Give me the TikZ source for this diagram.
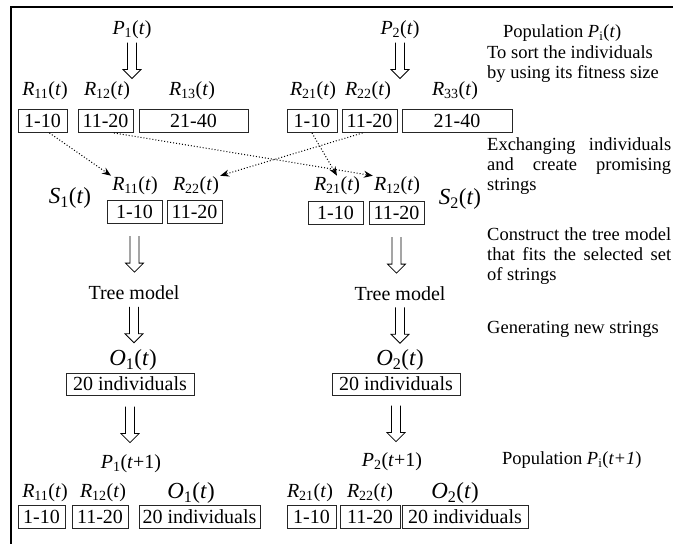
\documentclass[tikz,border=0pt]{standalone}
\usepackage{fontspec}
\setmainfont{Liberation Serif}
\usetikzlibrary{arrows.meta,calc,positioning}
\hyphenpenalty=10000
\exhyphenpenalty=10000
\newcommand{\tlab}[2]{\textit{#1}\textsubscript{#2}(\textit{t})}
\tikzset{
  lbl/.style={inner sep=1pt},
  biglbl/.style={inner sep=1pt,font=\fontsize{23}{25}\selectfont},
  cell/.style={draw=black!85,line width=0.9pt,minimum height=23pt,inner sep=0pt},
  note/.style={font=\fontsize{18.5}{20}\selectfont,inner sep=0pt,anchor=west},
  para/.style={note,text width=184pt,align=justify},
  xchg/.style={dotted,line width=1pt,-{Stealth[length=9pt,width=7pt]}},
  fatarrow/.style={line width=0.8pt,to path={
    let \p1=(\tikztostart),\p3=($(\tikztostart)!.5!(\tikztotarget)$) in
    (\x1-4.5pt,\y3+18pt) -- (\x1-4.5pt,\y3-9pt) -- (\x1-9pt,\y3-9pt) -- (\x1,\y3-18pt)
    -- (\x1+9pt,\y3-9pt) -- (\x1+4.5pt,\y3-9pt) -- (\x1+4.5pt,\y3+18pt)}},
}

\begin{document}
\begin{tikzpicture}[x=1pt,y=-1pt,font=\fontsize{20}{22}\selectfont]
\useasboundingbox (0,0) rectangle (673,544);
\draw[line width=1.8pt] (673,7) -- (11,7) -- (11,544);

% populations at t
\node[lbl] (p1) at (132,30) {\tlab{P}{1}};
\node[lbl] (p2) at (400,30) {\tlab{P}{2}};

\node[lbl] (r11) at (45,91) {\tlab{R}{11}};
\node[lbl] (r12) at (107,91) {\tlab{R}{12}};
\node[lbl] (r13) at (192,91) {\tlab{R}{13}};
\node[lbl] (r21) at (313,91) {\tlab{R}{21}};
\node[lbl] (r22) at (368,91) {\tlab{R}{22}};
\node[lbl] (r33) at (455,91) {\tlab{R}{33}};

\node[cell,minimum width=49pt] (b11) at (42.5,121) {1-10};
\node[cell,minimum width=55pt] (b12) at (105.5,121) {11-20};
\node[cell,minimum width=109pt] (b13) at (193.5,121) {21-40};
\node[cell,minimum width=50pt] (b21) at (312,121) {1-10};
\node[cell,minimum width=55pt] (b22) at (369.5,121) {11-20};
\node[cell,minimum width=110pt] (b23) at (457,121) {21-40};

\draw[fatarrow] (p1.south) to (p1.south |- r12.north);
\draw[fatarrow] (p2.south) to (p2.south |- r22.north);

% selected strings
\node[biglbl] (s1) at (70,198) {\tlab{S}{1}};
\node[lbl] (s11) at (135,186) {\tlab{R}{11}};
\node[lbl] (s22) at (196,186) {\tlab{R}{22}};
\node[cell,minimum width=55pt] (sb11) at (134.5,211.5) {1-10};
\node[cell,minimum width=55pt] (sb22) at (194.5,211.5) {11-20};

\node[biglbl] (s2) at (460,199) {\tlab{S}{2}};
\node[lbl] (s21) at (337,186) {\tlab{R}{21}};
\node[lbl] (s12) at (397,186) {\tlab{R}{12}};
\node[cell,minimum width=55pt] (sb21) at (335.5,212.5) {1-10};
\node[cell,minimum width=55pt] (sb12) at (396.5,212.5) {11-20};

\draw[xchg] (b11.-60) -- (s11.north west);
\draw[xchg] (b12.-55) -- (s12.north west);
\draw[xchg] (b21.south) -- (s21.north);
\draw[xchg] (b22.-120) -- (s22.north east);

% tree models and offspring
\node[lbl] (tree1) at (134,293) {Tree model};
\node[lbl] (tree2) at (400,294) {Tree model};
\draw[fatarrow] (sb11.south) to (sb11.south |- tree1.north);
\draw[fatarrow] (sb12.south) to (sb12.south |- tree2.north);

\node[biglbl] (o1) at (133,360) {\tlab{O}{1}};
\node[biglbl] (o2) at (400,360) {\tlab{O}{2}};
\draw[fatarrow] (tree1.south) to (tree1.south |- o1.north);
\draw[fatarrow] (tree2.south) to (tree2.south |- o2.north);

\node[cell,minimum width=128pt,minimum height=22pt] (ob1) at (130,384) {20 individuals};
\node[cell,minimum width=128pt,minimum height=22pt] (ob2) at (396,384) {20 individuals};

\node[lbl] (pn1) at (131,464) {\textit{P}\textsubscript{1}(\textit{t}+1)};
\node[lbl] (pn2) at (392,462) {\textit{P}\textsubscript{2}(\textit{t}+1)};
\draw[fatarrow] (ob1.south) to (ob1.south |- pn1.north);
\draw[fatarrow] (ob2.south) to (ob2.south |- pn2.north);

% populations at t+1
\node[lbl] (q11) at (45,493) {\tlab{R}{11}};
\node[lbl] (q12) at (103,493) {\tlab{R}{12}};
\node[biglbl] (q13) at (191,493) {\tlab{O}{1}};
\node[lbl] (q21) at (310,493) {\tlab{R}{21}};
\node[lbl] (q22) at (370,493) {\tlab{R}{22}};
\node[biglbl] (q23) at (455,493) {\tlab{O}{2}};

\node[cell,minimum width=47pt] (c11) at (41.5,516.5) {1-10};
\node[cell,minimum width=56pt] (c12) at (100,516.5) {11-20};
\node[cell,minimum width=121pt] (c13) at (199.5,516.5) {20 individuals};
\node[cell,minimum width=49pt] (c21) at (311.5,516.5) {1-10};
\node[cell,minimum width=60pt] (c22) at (370,516.5) {11-20};
\node[cell,minimum width=126pt] (c23) at (465,516.5) {20 individuals};

% notes on the right
\node[note] (popt) at (503,33) {Population \textit{P}\textsubscript{i}(\textit{t})};
\node[note,align=left] (sort) at (487,64) {To sort the individuals\\by using its fitness size};
\node[para] (exch) at (487,166) {Exchanging individuals and create promising strings};
\node[para] (cons) at (487,256) {Construct the tree model that fits the selected set of strings};
\node[note] (gen) at (487,329) {Generating new strings};
\node[note] (popn) at (502,460) {Population \textit{P}\textsubscript{i}(\textit{t+1})};

\end{tikzpicture}
\end{document}
